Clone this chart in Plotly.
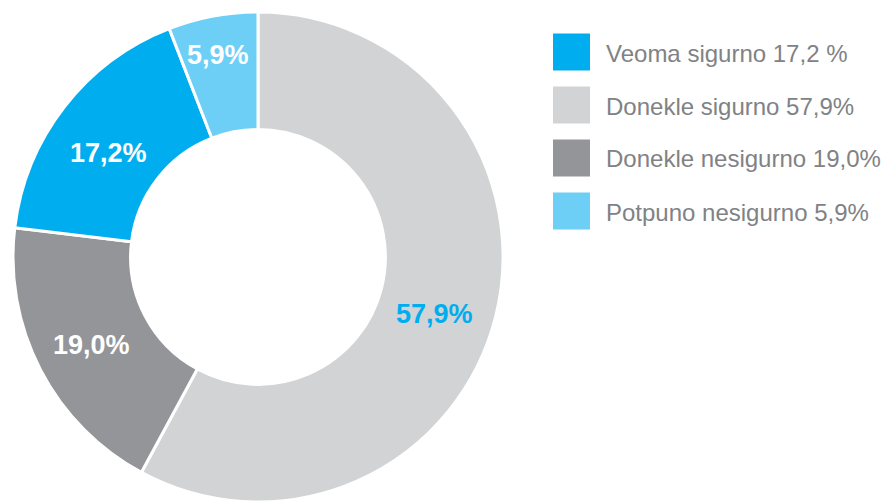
import math
import plotly.graph_objects as go

# Slice data, in clockwise order starting at 12 o'clock
slice_labels = ["Donekle sigurno", "Donekle nesigurno", "Veoma sigurno", "Potpuno nesigurno"]
slice_values = [57.9, 19.0, 17.2, 5.9]
slice_colors = ["#D1D3D4", "#939598", "#00AEEF", "#6DCFF6"]
slice_text_colors = ["#00AEEF", "#FFFFFF", "#FFFFFF", "#FFFFFF"]
# value-label placement: distance from centre (px) and angular nudge (deg) from slice middle
slice_label_radius = [185, 188, 182, 206]
slice_label_nudge = [3.7, -0.5, -2.9, -0.7]

# Legend entries (listed order)
legend_labels = ["Veoma sigurno 17,2 %", "Donekle sigurno 57,9%",
                 "Donekle nesigurno 19,0%", "Potpuno nesigurno 5,9%"]
legend_colors = ["#00AEEF", "#D1D3D4", "#939598", "#6DCFF6"]

W, H = 884, 502
R = 245
CX, CY = 258, H - R  # pie centre in px (from top-left)

fig = go.Figure(go.Pie(
    labels=slice_labels,
    values=slice_values,
    sort=False,
    direction="clockwise",
    rotation=0,
    hole=0.52,
    marker=dict(colors=slice_colors, line=dict(color="white", width=3)),
    textinfo="none",
    hoverinfo="label+value",
    showlegend=False,
    domain=dict(x=[(CX - R) / W, (CX + R) / W], y=[0, 2 * R / H]),
))

def fmt(v):
    return f"{v:.1f}".replace(".", ",") + "%"

# Value labels placed around each slice's mid-angle
total = sum(slice_values)
start = 0.0
annotations = []
for v, col, rad, nudge in zip(slice_values, slice_text_colors, slice_label_radius, slice_label_nudge):
    mid = (start + v / 2) / total * 2 * math.pi + math.radians(nudge)
    px = CX + rad * math.sin(mid)
    py = CY - rad * math.cos(mid)
    annotations.append(dict(
        x=px / W, y=1 - py / H, xref="paper", yref="paper",
        text=f"<b>{fmt(v)}</b>", showarrow=False,
        xanchor="center", yanchor="middle",
        font=dict(family="Liberation Sans, Arial, sans-serif", size=27, color=col),
    ))
    start += v

# Legend: coloured squares with labels
shapes = []
LX, LY0, STEP, SQ = 553, 52, 53, 37
for i, (lab, col) in enumerate(zip(legend_labels, legend_colors)):
    cy = LY0 + i * STEP
    shapes.append(dict(
        type="rect", xref="paper", yref="paper",
        x0=LX / W, x1=(LX + SQ) / W,
        y0=1 - (cy + SQ / 2) / H, y1=1 - (cy - SQ / 2) / H,
        fillcolor=col, line=dict(width=0),
    ))
    annotations.append(dict(
        x=(LX + SQ + 14) / W, y=1 - (cy + 1) / H, xref="paper", yref="paper",
        text=lab, showarrow=False, xanchor="left", yanchor="middle",
        font=dict(family="Liberation Sans, Arial, sans-serif", size=24, color="#808285"),
    ))

fig.update_layout(
    width=W, height=H,
    margin=dict(l=0, r=0, t=0, b=0),
    paper_bgcolor="white", plot_bgcolor="white",
    annotations=annotations, shapes=shapes,
)

fig.write_html("out.html")
